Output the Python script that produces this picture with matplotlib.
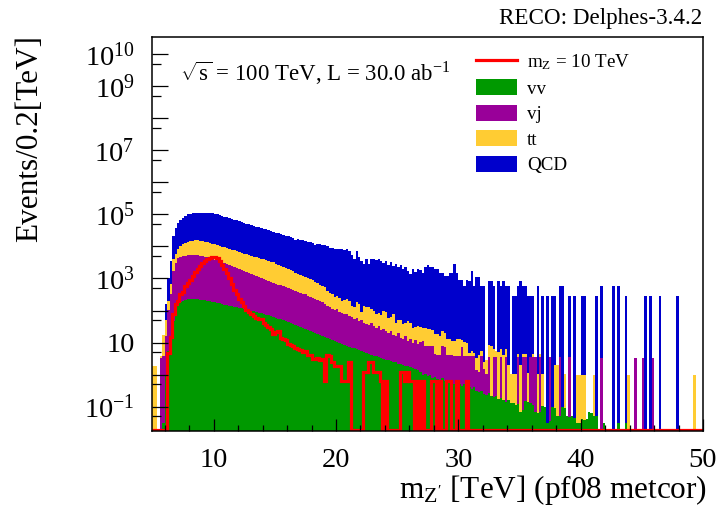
import numpy as np
import matplotlib
matplotlib.use("Agg")
import matplotlib.pyplot as plt
from matplotlib.ticker import FixedLocator, FuncFormatter, MultipleLocator
from matplotlib.patches import Patch
from matplotlib.lines import Line2D

plt.rcParams['font.family'] = ['Liberation Serif', 'DejaVu Serif']
plt.rcParams['mathtext.fontset'] = 'custom'
plt.rcParams['mathtext.rm'] = 'Liberation Serif'
plt.rcParams['mathtext.it'] = 'Liberation Serif:italic'
plt.rcParams['mathtext.bf'] = 'Liberation Serif:bold'

# 225 bins of 0.2 TeV from 5 to 50 TeV
x_lo, x_hi, bin_w = 5.0, 50.0, 0.2

vv = [0, 0, 0, 0, 0.03, 1.0, 5.5, 16, 48, 98,
      158, 180, 200, 214, 224, 228, 230, 226, 222, 218,
      212, 206, 200, 192, 185, 178, 172, 166, 160, 154,
      148, 142, 137, 132, 126, 121, 116, 111, 107, 103,
      98, 94, 90, 86, 83, 79, 75, 71, 67, 64,
      60, 56, 53, 49, 46, 43, 40, 38, 36, 33,
      31, 29, 27, 25, 23.5, 22, 20.5, 19, 17.5, 16,
      15, 14, 13, 12, 11.2, 10.5, 9.8, 9.2, 8.6, 8.0,
      7.5, 7.0, 6.6, 6.2, 5.8, 5.4, 5.0, 4.7, 4.4, 4.1,
      3.9, 3.7, 3.5, 3.3, 3.1, 2.9, 2.8, 2.6, 2.5, 2.4,
      2.2, 2.1, 2.0, 1.9, 1.8, 1.7, 1.6, 1.45, 1.35, 1.2,
      1.0, 1.05, 0.9, 0.95, 0.8, 0.85, 0.75, 0.7, 0.78, 0.63,
      0.63, 0.56, 0.6, 0.5, 0.52, 0.5, 0.45, 0.5, 0.42, 0.4,
      0.36, 0.4, 0.32, 0.28, 0.32, 0.25, 0.24, 0.26, 0.22, 0.2,
      0.22, 0.18, 0.19, 0.16, 0.14, 0.16, 0.13, 0.13, 0.11, 0.12,
      0.066, 0.08, 0.15, 0.14, 0.13, 0.11, 0.066, 0.063, 0.07, 0.107,
      0.1, 0.032, 0.035, 0.095, 0.09, 0.052, 0.05, 0.095, 0.09, 0.05,
      0.048, 0.05, 0.045, 0.032, 0.032, 0.04, 0.038, 0.04, 0.066, 0.063,
      0.052, 0.05, 0, 0, 0.032, 0, 0, 0, 0, 0,
      0.032, 0, 0, 0.032, 0, 0, 0, 0, 0, 0,
      0, 0, 0, 0, 0, 0, 0, 0, 0, 0,
      0, 0, 0, 0, 0, 0, 0, 0, 0, 0,
      0, 0, 0, 0, 0]

vj = [0, 0, 0, 3.4, 3.8, 15, 95, 308, 1650, 2990,
      4310, 4610, 4810, 4920, 5030, 5140, 5140, 5140, 5030, 4910,
      4800, 4580, 4370, 4070, 3890, 3710, 3550, 3300, 3080, 2870,
      2670, 2490, 2320, 2160, 2010, 1880, 1710, 1590, 1480, 1380,
      1280, 1190, 1110, 1040, 970, 900, 840, 780, 730, 680,
      630, 590, 560, 525, 490, 470, 440, 410, 380, 355,
      330, 310, 290, 263, 245, 229, 208, 195, 177, 162,
      143, 127, 119, 103, 94, 99, 83, 76, 67, 71,
      62, 56, 46, 54, 40, 45, 37, 33, 31, 36,
      28, 24, 30, 21, 23, 20, 17, 21, 15, 13.6,
      17, 12, 10.6, 14, 9.4, 11.5, 8.4, 10.6, 7.6, 9.3,
      10.2, 6.8, 6.8, 6.8, 6.8, 3.4, 3.4, 3.4, 6.8, 6.8,
      3.4, 3.4, 3.4, 3.4, 3.4, 3.4, 6.8, 3.4, 3.4, 3.4,
      3.4, 3.4, 1.1, 0.9, 3.4, 1.2, 0.8, 3.4, 0, 3.4,
      3.4, 0, 3.4, 0, 3.4, 0, 0, 0, 0, 3.4,
      0, 3.4, 3.4, 0, 3.4, 3.4, 3.4, 0, 3.4, 0,
      0, 0, 3.4, 0, 0, 0, 3.4, 0, 0, 0,
      3.4, 0, 0, 0, 0, 0, 0, 0, 0, 0,
      0, 0, 0, 3.4, 0, 0, 0, 0, 0, 0,
      0, 0, 0, 0, 0, 0, 0, 3.4, 0, 0,
      3.4, 0, 0, 0, 3.4, 0, 0, 0, 0, 0,
      0, 0, 0, 0, 0, 0, 0, 0, 0, 0,
      0, 0, 0, 0, 0]

tt = [1.9, 1.9, 0, 0.4, 14, 34, 100, 336, 2280, 2530,
      3660, 5210, 6740, 8050, 8880, 9420, 9770, 10120, 10240, 10010,
      9780, 9340, 8920, 8610, 8230, 7860, 7240, 7000, 6530, 6310,
      5890, 5690, 5490, 5300, 4940, 4610, 4490, 4190, 4040, 3770,
      3630, 3500, 3370, 3250, 3120, 3000, 2810, 2700, 2520, 2420,
      2190, 2040, 1890, 1770, 1600, 1440, 1300, 1210, 1090, 1020,
      960, 890, 800, 780, 690, 640, 565, 494, 436, 397,
      367, 257, 231, 209, 158, 178, 147, 115, 133, 145,
      131, 75, 74, 118, 112, 37, 96, 88, 96, 70,
      68, 48, 50, 48, 72, 67, 40, 39, 58, 26,
      33, 36, 24.6, 24, 36, 29, 19.5, 19.6, 24, 19.5,
      18, 20, 18.6, 18.5, 17.4, 14, 15, 12.5, 15.8, 12.6,
      8.6, 9.2, 7.2, 7.3, 8.7, 9.3, 4.75, 6.65, 5.7, 0.95,
      1.9, 0.95, 1.9, 2.85, 1.9, 0.95, 1.9, 4.75, 7.6, 2.85,
      1.9, 4.75, 2.85, 3.8, 2.85, 1.9, 0.95, 0.95, 0.95, 0.95,
      1.9, 0.95, 0.95, 0.95, 0, 0.95, 0, 0.95, 0.95, 0.95,
      0, 0, 0, 0, 1.9, 1.9, 0, 0, 0.95, 0,
      0, 0, 0, 0.95, 0.95, 0.95, 0.95, 0, 0, 0,
      0.95, 0, 0, 0, 0, 0, 0, 0, 0, 0,
      0, 0, 0, 0, 0.95, 0, 0, 0, 0, 0,
      0, 0, 0, 0, 0, 0, 0, 0, 0, 0,
      0, 0, 0, 0, 0, 0, 0, 0, 0, 0,
      0, 0.95, 0, 0, 0]

qcd = [0, 0, 0, 0, 0, 108, 800, 2890, 16900, 32400,
       46900, 56100, 62400, 75900, 85900, 89900, 92100, 96700, 96700, 97100,
       97400, 98100, 96100, 96700, 94900, 90600, 89000, 85000, 81400, 75800,
       72600, 69300, 64500, 60000, 57500, 53700, 49900, 47800, 45700, 43700,
       41800, 38900, 37100, 34500, 33000, 31500, 30200, 28800, 26900, 25000,
       23400, 23000, 21500, 20600, 19300, 18500, 17300, 16900, 14300, 15600,
       14500, 14300, 13300, 13000, 12500, 12300, 10400, 11300, 10900, 10400,
       10200, 9600, 8760, 8590, 8250, 8030, 7890, 8120, 7730, 8290,
       7210, 5360, 4040, 7060, 4630, 3460, 2740, 4040, 2620, 3870,
       4070, 3720, 3900, 3320, 2850, 3460, 2570, 3100, 2430, 2780,
       2240, 2580, 1960, 2250, 1650, 1370, 1970, 1550, 1880, 1750,
       1425, 2280, 2565, 2280, 2280, 1995, 1995, 1425, 1425, 1140,
       1140, 1425, 1425, 2850, 1425, 855, 855, 570, 855, 855,
       1710, 570, 1140, 1140, 570, 570, 0, 855, 855, 570,
       0, 855, 570, 855, 570, 570, 0, 285, 285, 570,
       855, 570, 570, 285, 285, 285, 0, 570, 0, 285,
       0, 285, 0, 285, 285, 0, 570, 570, 0, 0,
       285, 0, 285, 0, 0, 285, 285, 0, 0, 0,
       0, 285, 0, 570, 0, 0, 0, 0, 570, 0,
       570, 0, 0, 285, 0, 0, 0, 0, 0, 0,
       0, 285, 0, 285, 0, 0, 0, 285, 0, 0,
       0, 0, 0, 0, 285, 0, 0, 0, 0, 0,
       0, 0, 0, 0, 0]

signal = [0, 0, 0, 0, 0, 0, 4.9, 14.5, 78, 158,
          200, 316, 380, 562, 724, 912, 1175, 1585, 1995, 2400,
          3020, 3550, 4070, 4470, 4790, 4790, 4270, 3390, 2690, 2000,
          1510, 1020, 676, 427, 324, 234, 182, 141, 107, 89,
          78, 66, 59, 55, 52.5, 41.7, 36.3, 31.6, 26, 18,
          21, 23, 14, 13, 12, 8.9, 8.3, 7.9, 6.6, 6.3,
          6.0, 5.0, 5.3, 4.2, 4.0, 3.0, 3.0, 3.2, 2.8, 3.0,
          0.62, 4.0, 3.7, 2.5, 1.86, 1.86, 1.86, 0.62, 0.62, 0.62,
          2.48, 0, 0, 0, 0, 0, 1.24, 1.24, 2.48, 2.48,
          1.24, 1.24, 1.24, 0.62, 0, 0.62, 0, 0, 0, 0,
          0, 1.24, 1.24, 0.62, 1.24, 0.62, 0.62, 0, 0.62, 0,
          0.62, 0, 0, 0, 0.62, 0.62, 0, 0.62, 0, 0,
          0.62, 0.62, 0, 0, 0.62, 0, 0, 0, 0.62, 0] + [0] * 95

legend_labels = [r'm$_{\rm Z}$ = 10 TeV', 'vv', 'vj', 'tt', 'QCD']
colors = {'sig': '#ff0000', 'vv': '#009900', 'vj': '#990099',
          'tt': '#ffcc33', 'qcd': '#0000cc'}

y_min, y_max = 0.0175, 3.4e10
y_labelled = {10: r'$10^{10}$', 9: r'$10^{9}$', 7: r'$10^{7}$', 5: r'$10^{5}$',
              3: r'$10^{3}$', 1: '10', -1: r'$10^{-1}$'}


def main():
    edges = np.linspace(x_lo, x_hi, len(vv) + 1)
    s1 = np.array(vv, dtype=float)
    s2 = s1 + np.array(vj)
    s3 = s2 + np.array(tt)
    s4 = s3 + np.array(qcd)
    floor = 1e-3

    fig = plt.figure(figsize=(7.19, 5.29), dpi=100)
    ax = fig.add_axes([0.2121, 0.1853, 0.7656, 0.7448])
    ax.set_yscale('log')

    # stacked histogram drawn from the total downwards, like THStack
    for top, key in [(s4, 'qcd'), (s3, 'tt'), (s2, 'vj'), (s1, 'vv')]:
        ax.stairs(np.where(top > 0, top, floor), edges, baseline=floor,
                  fill=True, color=colors[key], linewidth=0)

    sig = np.array(signal, dtype=float)
    ax.stairs(np.where(sig > 0, sig, y_min * 1.07), edges, baseline=None,
              color=colors['sig'], linewidth=2.3)

    ax.set_xlim(x_lo, x_hi)
    ax.set_ylim(y_min, y_max)

    ax.xaxis.set_major_locator(MultipleLocator(10))
    ax.xaxis.set_minor_locator(MultipleLocator(2))
    ax.yaxis.set_major_locator(FixedLocator([10.0 ** k for k in range(-1, 11)]))
    ax.yaxis.set_minor_locator(FixedLocator([5 * 10.0 ** k for k in range(-2, 10)]))
    ax.yaxis.set_major_formatter(FuncFormatter(
        lambda v, p: y_labelled.get(int(round(np.log10(v))), '')))
    ax.yaxis.set_minor_formatter(FuncFormatter(lambda v, p: ''))

    ax.tick_params(axis='both', which='both', direction='in',
                   top=False, right=False, labelsize=20.5, width=0.9)
    ax.tick_params(axis='x', which='major', length=8.6, pad=12)
    ax.tick_params(axis='x', which='minor', length=4.3)
    ax.tick_params(axis='y', which='major', length=11.3, pad=13)
    ax.tick_params(axis='y', which='minor', length=6.5)
    for sp in ax.spines.values():
        sp.set_linewidth(1.1)

    handles = [Line2D([], [], color=colors['sig'], linewidth=2.3),
               Patch(facecolor=colors['vv'], edgecolor='none'),
               Patch(facecolor=colors['vj'], edgecolor='none'),
               Patch(facecolor=colors['tt'], edgecolor='none'),
               Patch(facecolor=colors['qcd'], edgecolor='none')]
    ax.legend(handles, legend_labels, loc='upper left',
              bbox_to_anchor=(0.5877, 0.96), frameon=False, fontsize=13.7,
              handlelength=2.16, handleheight=0.93, handletextpad=0.53,
              labelspacing=0.36, borderpad=0, borderaxespad=0)

    ax.text(0.05, 0.888, r'$\sqrt{\mathrm{s}}$ = 100 TeV, L = 30.0 ab$^{-1}$',
            transform=ax.transAxes, fontsize=16.5, va='baseline', ha='left')

    fig.text(702 / 719, 1 - 24 / 529, 'RECO: Delphes-3.4.2',
             fontsize=16.6, ha='right', va='baseline')
    fig.text(30 / 719, 1 - 35 / 529, 'Events/0.2[TeV]', rotation=90,
             fontsize=22.5, ha='center', va='top')
    fig.text(707 / 719, 1 - 498 / 529, r"m$_{\rm Z'}$ [TeV] (pf08 metcor)",
             fontsize=22.5, ha='right', va='baseline')

    fig.savefig('out.png', dpi=100)


if __name__ == "__main__":
    main()
